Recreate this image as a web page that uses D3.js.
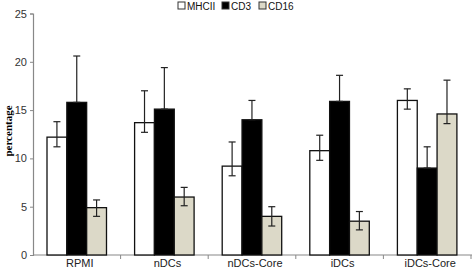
<!DOCTYPE html>
<html>
<head>
<meta charset="utf-8">
<script src="https://cdn.jsdelivr.net/npm/d3@7"></script>
<style>
  body { margin: 0; background: #fff; }
  svg { display: block; }
</style>
</head>
<body>
<div class="container"></div>
<script>
// groups and series
const groups = ["RPMI", "nDCs", "nDCs-Core", "iDCs", "iDCs-Core"]
const series = ["MHCII", "CD3", "CD16"]
const colors = ["#ffffff", "#000000", "#dcd9c8"]

// bar heights per series (same order as groups)
const mhcii = [12.2, 13.7, 9.2, 10.8, 16.0]
const cd3 = [15.8, 15.1, 14.0, 15.9, 9.0]
const cd16 = [4.9, 6.0, 4.0, 3.5, 14.6]

// error bar ends
const mhciiHi = [13.8, 17.0, 11.7, 12.4, 17.2]
const mhciiLo = [11.2, 12.7, 8.2, 9.8, 15.1]
const cd3Hi = [20.6, 19.4, 16.0, 18.6, 11.2]
const cd3Lo = [15.8, 15.1, 14.0, 15.9, 9.0]
const cd16Hi = [5.7, 7.0, 5.0, 4.5, 18.1]
const cd16Lo = [4.0, 5.1, 3.0, 2.6, 13.6]

const yTicks = [0, 5, 10, 15, 20, 25]

const width = 473
const height = 269
const margin = {top: 14, right: 2, bottom: 14, left: 33}

const values = [mhcii, cd3, cd16]
const his = [mhciiHi, cd3Hi, cd16Hi]
const los = [mhciiLo, cd3Lo, cd16Lo]

const data = []
groups.forEach((g, i) => {
    series.forEach((s, j) => {
        data.push({group: g, key: s, idx: j, value: values[j][i], hi: his[j][i], lo: los[j][i]})
    })
})

const svg = d3.select(".container")
    .append("svg")
    .attr("width", width)
    .attr("height", height)

const x0 = d3.scaleBand()
    .domain(groups)
    .range([margin.left, 471])

const x1 = d3.scaleBand()
    .domain(series)
    .range([14, 73.5])

const y = d3.scaleLinear()
    .domain([0, 25])
    .range([255, 13.5])

// y axis
const yAxis = svg.append("g")
    .attr("transform", "translate(" + margin.left + ",0)")
    .call(d3.axisLeft(y).tickValues(yTicks).tickSize(3).tickPadding(3))
yAxis.select(".domain").attr("stroke", "#888").attr("stroke-width", 1.2)
yAxis.selectAll(".tick line").attr("stroke", "#888")
yAxis.selectAll("text")
    .style("font-family", "Liberation Sans, Arial, sans-serif")
    .style("font-size", "11px")
    .attr("fill", "#333")

// x axis with ticks at band edges
const xg = svg.append("g")
    .attr("transform", "translate(0," + y(0) + ")")
xg.append("line")
    .attr("x1", margin.left).attr("x2", 472)
    .attr("stroke", "#888").attr("stroke-width", 1.2)
xg.selectAll(".edge")
    .data(groups.slice(1).concat(["_end"]))
    .enter().append("line")
    .attr("x1", (d, i) => margin.left + x0.step() * (i + 1))
    .attr("x2", (d, i) => margin.left + x0.step() * (i + 1))
    .attr("y1", 0).attr("y2", 4)
    .attr("stroke", "#888")
xg.selectAll(".lbl")
    .data(groups)
    .enter().append("text")
    .attr("x", d => x0(d) + x0.bandwidth() / 2 + 3)
    .attr("y", 12)
    .attr("text-anchor", "middle")
    .style("font-family", "Liberation Sans, Arial, sans-serif")
    .style("font-size", "11px")
    .attr("fill", "#222")
    .text(d => d)

// bars
svg.selectAll(".bar")
    .data(data)
    .enter().append("rect")
    .attr("class", "bar")
    .attr("x", d => x0(d.group) + x1(d.key))
    .attr("y", d => y(d.value))
    .attr("width", x1.bandwidth())
    .attr("height", d => y(0) - y(d.value))
    .attr("fill", d => colors[d.idx])
    .attr("stroke", "#111")
    .attr("stroke-width", 1.3)

// error bars
const err = svg.selectAll(".err")
    .data(data)
    .enter().append("g")
    .attr("transform", d => "translate(" + (x0(d.group) + x1(d.key) + x1.bandwidth() / 2) + ",0)")
    .attr("stroke", "#222")
    .attr("stroke-width", 1.2)
err.append("line")
    .attr("y1", d => y(d.hi)).attr("y2", d => y(d.lo))
err.append("line")
    .attr("x1", -3.5).attr("x2", 3.5)
    .attr("y1", d => y(d.hi)).attr("y2", d => y(d.hi))
err.append("line")
    .attr("x1", -3.5).attr("x2", 3.5)
    .attr("y1", d => y(d.lo)).attr("y2", d => y(d.lo))

// y label
svg.append("text")
    .attr("transform", "translate(12," + 131 + ") rotate(-90)")
    .attr("text-anchor", "middle")
    .style("font-family", "Liberation Serif, Times New Roman, serif")
    .style("font-weight", "bold")
    .style("font-size", "11px")
    .text("percentage")

// legend
const legendX = [178, 222, 259]
const legend = svg.selectAll(".leg")
    .data(series)
    .enter().append("g")
    .attr("transform", (d, i) => "translate(" + legendX[i] + ",0)")
legend.append("rect")
    .attr("x", 0).attr("y", 2)
    .attr("width", 7).attr("height", 7)
    .attr("fill", (d, i) => colors[i])
    .attr("stroke", "#333")
    .attr("stroke-width", 1)
legend.append("text")
    .attr("x", 9).attr("y", 9.5)
    .style("font-family", "Liberation Sans, Arial, sans-serif")
    .style("font-size", "10px")
    .attr("fill", "#111")
    .text(d => d)
</script>
</body>
</html>
